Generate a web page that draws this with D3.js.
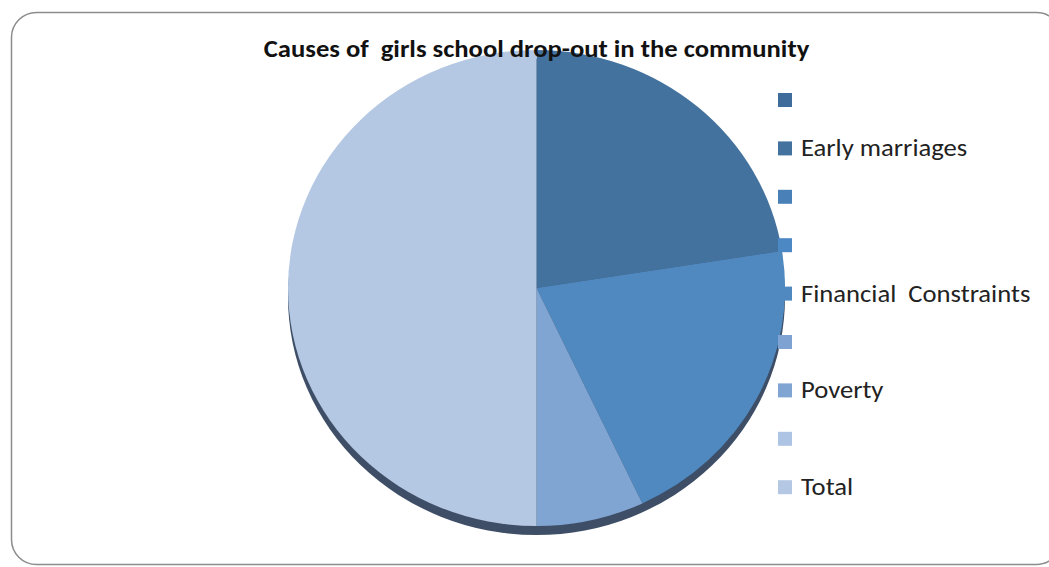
<!DOCTYPE html>
<html>
<head>
<meta charset="utf-8">
<script src="https://cdnjs.cloudflare.com/ajax/libs/d3/7.8.5/d3.min.js"></script>
<style>
body{margin:0;background:#fff;}
svg{display:block;font-family:Carlito,Lato,"Open Sans",sans-serif;}
</style>
</head>
<body>
<script>
// legend / slice categories (empty names are blank rows in the original legend)
var categories = ["", "Early marriages", "", "", "Financial  Constraints", "", "Poverty", "", "Total"];
var values = [0, 45, 0, 0, 41, 0, 14, 0, 100];
var colors = ["#3f6c9b", "#44729f", "#4a80b8", "#4c88c4", "#4f89c0", "#7ea3d3", "#80a5d2", "#aec4e4", "#b4c7e3"];
var title = "Causes of  girls school drop-out in the community";

var W = 1049, H = 567;
var stretch = 1.11; // the original is a bit wider than tall
var svg = d3.select("body").append("svg").attr("width", W).attr("height", H);

// outer frame
svg.append("rect")
  .attr("x", 11.5).attr("y", 12.5)
  .attr("width", 1050).attr("height", 552)
  .attr("rx", 25).attr("ry", 25)
  .style("fill", "#fff").style("stroke", "#8c8c8c").style("stroke-width", 1.5);

var cx = 536.5, cy = 288, rx = 248.5, ry = 238, depth = 9;

var pie = d3.pie().sort(null).value(function(d){ return d; });
var arc = d3.arc().innerRadius(0).outerRadius(1);
var arcs = pie(values);

// side of the tilted pie
svg.append("ellipse")
  .attr("cx", cx).attr("cy", cy + depth)
  .attr("rx", rx).attr("ry", ry)
  .style("fill", "#3d4e66");

var g = svg.append("g")
  .attr("transform", "translate(" + cx + "," + cy + ") scale(" + rx + "," + ry + ")");

g.selectAll("path")
  .data(arcs)
  .enter().append("path")
  .attr("d", arc)
  .style("fill", function(d, i){ return colors[i]; });

// title
svg.append("g")
  .attr("transform", "translate(" + cx + ",57) scale(" + stretch + ",1)")
  .append("text")
  .attr("text-anchor", "middle")
  .attr("xml:space", "preserve")
  .style("white-space", "pre")
  .style("font-weight", "bold").style("font-size", "24px")
  .style("fill", "#111")
  .text(title);

// legend
var legend = svg.append("g").attr("transform", "translate(778,93)");
var rowH = 48.4;
var item = legend.selectAll("g")
  .data(categories)
  .enter().append("g")
  .attr("transform", function(d, i){ return "translate(0," + (i * rowH) + ")"; });

item.append("rect")
  .attr("width", 14).attr("height", 14)
  .style("fill", function(d, i){ return colors[i]; });

item.append("text")
  .attr("transform", "translate(23,15) scale(" + stretch + ",1)")
  .style("font-size", "24px").style("fill", "#222")
  .style("white-space", "pre")
  .attr("xml:space", "preserve")
  .text(function(d){ return d; });
</script>
</body>
</html>
